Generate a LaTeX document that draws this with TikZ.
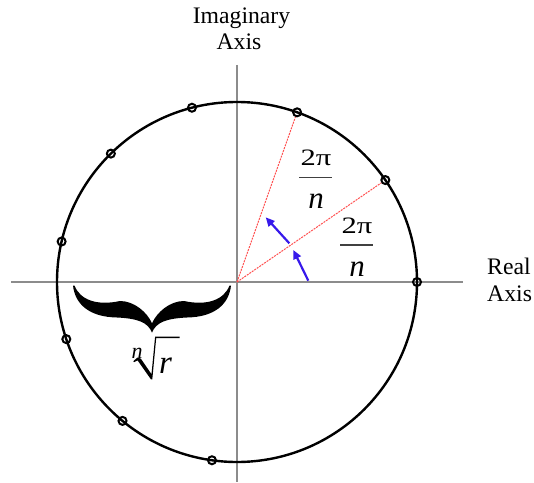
\documentclass[tikz,border=0pt]{standalone}
\usepackage{fontspec}
\setmainfont{Liberation Serif}
\usetikzlibrary{arrows.meta}
\begin{document}
\begin{tikzpicture}[x=1pt,y=1pt,
  axis/.style={draw={rgb,255:red,140;green,140;blue,140}, line width=1.3pt},
  ring/.style={draw=black, line width=2.4pt},
  rootpt/.style={circle, draw=black, line width=2pt, minimum size=8pt, inner sep=0pt},
  radial/.style={draw={rgb,255:red,255;green,80;blue,80}, line width=1pt, dash pattern=on 2pt off 1pt},
  turn/.style={draw={rgb,255:red,55;green,25;blue,235}, line width=2.2pt, -{Triangle[length=9pt,width=8pt]}},
  lab/.style={font=\fontsize{23.7}{27}\selectfont, inner sep=0pt},
  fracnum/.style={font=\fontsize{23.5}{26}\selectfont, inner sep=0pt, anchor=base},
  fracden/.style={font=\fontsize{31}{34}\selectfont\itshape, inner sep=0pt, anchor=base},
  fracbar/.style={draw=black!75, line width=1.5pt},
  glyph/.style={fill=black, draw=none},
]
\useasboundingbox (0,0) rectangle (534,482);
\coordinate (O) at (237,200);
\coordinate (xl) at (11,200);
\coordinate (xr) at (463,200);
\coordinate (yt) at (237,417);
\coordinate (yb) at (237,0);
\draw[axis] (xl) -- (xr);
\draw[axis] (yt) -- (yb);
\draw[ring] (O) circle[radius=180];
\foreach \a/\n in {0/p0,34.5/p1,70.5/p2,104.5/p3,134.5/p4,167/p5,198.5/p6,230.5/p7,262/p8}
  \path (O) ++(\a:180) node[rootpt] (\n) {};
\draw[radial] (O) -- (p1);
\draw[radial] (O) -- (p2);
\coordinate (a1s) at (308.3,201.3);
\coordinate (a1e) at (293.3,232);
\coordinate (a2s) at (289.3,238.7);
\coordinate (a2e) at (265.7,264.7);
\draw[turn] (a1s) -- (a1e);
\draw[turn] (a2s) -- (a2e);
% fractions
\node[fracnum] (num1) at (316,316.3) {\scalebox{1.3}[1]{2π}};
\coordinate (b1l) at (299,304.7);
\coordinate (b1r) at (332.3,304.7);
\draw[fracbar] (b1l) -- (b1r);
\node[fracden] (den1) at (316,273) {n};
\node[fracnum] (num2) at (357,248.6) {\scalebox{1.3}[1]{2π}};
\coordinate (b2l) at (340,237);
\coordinate (b2r) at (373.3,237);
\draw[fracbar] (b2l) -- (b2r);
\node[fracden] (den2) at (357,205.3) {n};
% axis labels
\node[lab, anchor=base] (im1) at (241.5,458.7) {Imaginary};
\node[lab, anchor=base] (im2) at (239,432) {Axis};
\node[lab, anchor=base west] (re1) at (487,208) {Real};
\node[lab, anchor=base west] (re2) at (487,180.3) {Axis};
% brace
\begin{scope}[shift={(152,0)}]
\path[glyph] (-79,196.5) .. controls (-77,178) and (-63,165) .. (-35,164.5)
  .. controls (-15,163.5) and (-4,160) .. (0,149.3)
  .. controls (4,160) and (15,163.5) .. (35,164.5)
  .. controls (63,165) and (77,178) .. (79,196.5)
  -- (77.5,196.5) .. controls (72,182) and (55,176) .. (32,181)
  .. controls (18,181) and (5,170) .. (0,158.7)
  .. controls (-5,170) and (-18,181) .. (-32,181)
  .. controls (-55,176) and (-72,182) .. (-77.5,196.5) -- cycle;
\end{scope}
% n-th root of r
\path[glyph] (133.3,120.8) -- (137.4,124.4) -- (140.8,123.4) -- (151.5,107.8)
  -- (155.1,145.3) -- (179.5,145.3) -- (179.5,144.0) -- (156.2,144.0)
  -- (152.3,102.7) -- (150.9,102.7) -- (137.6,121.6) -- (134.1,119.8) -- cycle;
\node[font=\fontsize{22}{24}\selectfont\itshape, inner sep=0pt, anchor=base] (idx) at (137,124) {n};
\node[font=\fontsize{33}{36}\selectfont\itshape, inner sep=0pt, anchor=base] (rad) at (165.5,108.7) {r};
\end{tikzpicture}
\end{document}
